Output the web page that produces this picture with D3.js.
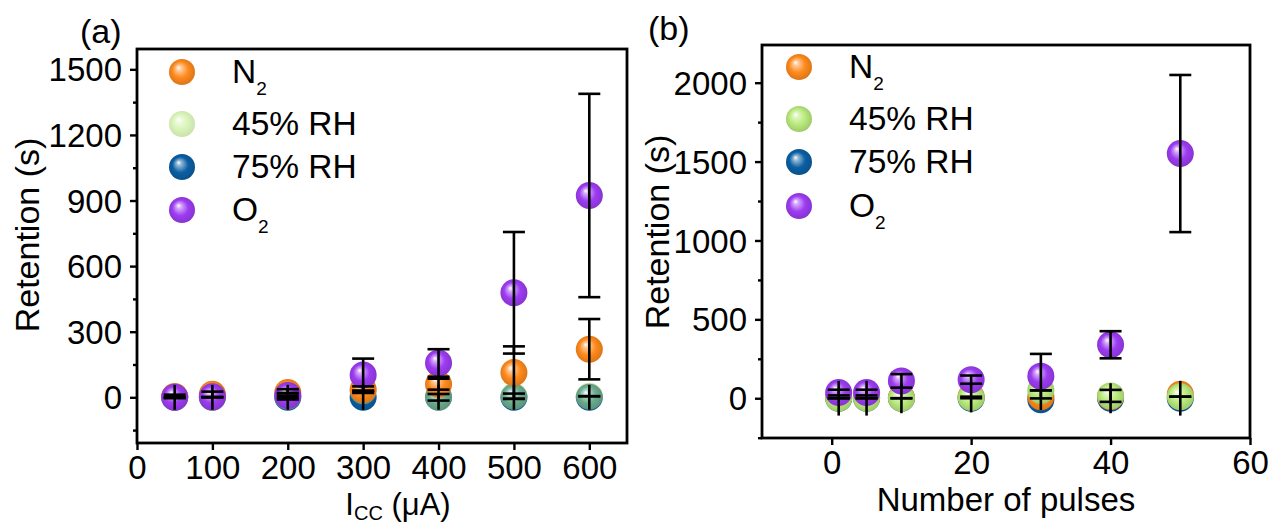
<!DOCTYPE html>
<html>
<head>
<meta charset="utf-8">
<script src="https://cdn.jsdelivr.net/npm/d3@7"></script>
<style>
  body { margin: 0; background: #fff; }
  text { font-family: "Liberation Sans", Arial, sans-serif; fill: #000; }
</style>
</head>
<body>
<svg id="fig" width="1273" height="523"></svg>
<script>
// ---------- data ----------
const seriesNames = ["N2", "45% RH", "75% RH", "O2"];

// Panel (a): retention vs compliance current (µA)
const iccCurrents = [50, 100, 200, 300, 400, 500, 600];
const aN2      = [4, 14, 22, 35, 60, 113, 220];
const aN2Err   = [8, 12, 15, 15, 25, 120, 138];
const aRH45    = [0, 0, 5, 30, 0, 5, 5];
const aRH45Err = [0, 0, 15, 0, 15, 12, 0];
const aRH75    = [0, 0, 0, 0, 0, 0, 0];
const aRH75Err = [57, 57, 57, 57, 57, 57, 57];
const aO2      = [0, 2, 8, 102, 157, 478, 923];
const aO2Err   = [0, 0, 10, 75, 63, 278, 465];

// Panel (b): retention vs number of pulses
const pulseCounts = [1, 5, 10, 20, 30, 40, 50];
const bN2      = [5, 5, 5, 10, 10, 10, 25];
const bN2Err   = [0, 0, 0, 0, 0, 0, 0];
const bRH45    = [0, 0, 0, 5, 50, 15, 10];
const bRH45Err = [0, 0, 0, 5, 0, 38, 0];
const bRH75    = [0, 0, 0, 0, -10, 0, 0];
const bRH75Err = [110, 110, 95, 90, 65, 95, 110];
const bO2      = [36, 36, 110, 118, 140, 339, 1551];
const bO2Err   = [18, 18, 43, 26, 141, 86, 498];

const aXTicks = [0, 100, 200, 300, 400, 500, 600];
const aYTicks = [0, 300, 600, 900, 1200, 1500];
const bXTicks = [0, 20, 40, 60];
const bYTicks = [0, 500, 1000, 1500, 2000];

// ---------- styling ----------
const colors = {
  "N2":     "#ff8a1c",
  "45% RH": "#b9ea7c",
  "75% RH": "#0b5fa3",
  "O2":     "#9d3cf2"
};
const FONT = "Liberation Sans, Arial, sans-serif";
const svg = d3.select("#fig");
const defs = svg.append("defs");

function gradId(name) { return "sph-" + name.replace(/[^a-zA-Z0-9]/g, ""); }
seriesNames.forEach(name => {
  const base = d3.color(colors[name]);
  const g = defs.append("radialGradient")
    .attr("id", gradId(name))
    .attr("cx", "50%").attr("cy", "50%").attr("r", "55%")
    .attr("fx", "36%").attr("fy", "32%");
  g.append("stop").attr("offset", "0%").attr("stop-color", "#ffffff");
  g.append("stop").attr("offset", "18%").attr("stop-color", d3.interpolateRgb(base, "#fff")(0.55));
  g.append("stop").attr("offset", "55%").attr("stop-color", base.formatHex());
  g.append("stop").attr("offset", "100%").attr("stop-color", base.darker(0.5).formatHex());
});

function sphere(sel, name, cx, cy, r, opacity) {
  sel.append("circle")
    .attr("cx", cx).attr("cy", cy).attr("r", r)
    .attr("fill", `url(#${gradId(name)})`)
    .attr("fill-opacity", opacity);
}

// ---------- one panel ----------
function panel(cfg) {
  const g = svg.append("g");
  const x = d3.scaleLinear().domain(cfg.xDomain).range([cfg.left, cfg.right]);
  const y = d3.scaleLinear().domain(cfg.yDomain).range([cfg.bottom, cfg.top]);

  // axes
  const yMinor = d3.range(cfg.yMinorStart, cfg.yDomain[1], cfg.yMinorStep)
    .filter(v => !cfg.yTicks.includes(v) && v >= cfg.yDomain[0]);
  g.append("g").attr("transform", `translate(${cfg.left},0)`)
    .call(d3.axisLeft(y).tickValues(yMinor).tickSize(4).tickFormat(""))
    .call(a => a.select(".domain").remove())
    .call(a => a.selectAll("line").attr("stroke-width", 2.4));
  const yAxis = g.append("g").attr("transform", `translate(${cfg.left},0)`)
    .call(d3.axisLeft(y).tickValues(cfg.yTicks).tickSize(7).tickPadding(8).tickFormat(d3.format("d")))
    .call(a => a.select(".domain").remove());
  yAxis.selectAll("line").attr("stroke-width", 2.4);
  yAxis.selectAll("text").attr("font-size", cfg.tickFont).attr("font-family", FONT)
    .attr("dy", "0.35em");

  const xAxis = g.append("g").attr("transform", `translate(0,${cfg.bottom})`)
    .call(d3.axisBottom(x).tickValues(cfg.xTicks).tickSize(7).tickPadding(6).tickFormat(d3.format("d")))
    .call(a => a.select(".domain").remove());
  xAxis.selectAll("line").attr("stroke-width", 2.4);
  xAxis.selectAll("text").attr("font-size", cfg.tickFont).attr("font-family", FONT);

  // frame
  g.append("rect")
    .attr("x", cfg.left).attr("y", cfg.top)
    .attr("width", cfg.right - cfg.left).attr("height", cfg.bottom - cfg.top)
    .attr("fill", "none").attr("stroke", "#000").attr("stroke-width", 2.8);

  // markers, bottom layer first
  const marks = g.append("g");
  cfg.order.forEach(name => {
    const s = cfg.series[name];
    cfg.xs.forEach((xv, i) => {
      sphere(marks, name, x(xv), y(s.v[i]), 13.5, s.opacity);
    });
  });

  // error bars on top
  const eb = g.append("g").attr("stroke", "#000").attr("stroke-width", 2.6).attr("fill", "none");
  cfg.order.forEach(name => {
    const s = cfg.series[name];
    cfg.xs.forEach((xv, i) => {
      const cx = x(xv), e = s.e[i];
      if (e <= 0 && !s.zeroCap) return;
      const y1 = y(s.v[i] + e), y0 = y(s.v[i] - e);
      eb.append("line").attr("x1", cx).attr("x2", cx).attr("y1", y1).attr("y2", y0);
      if (s.cap > 0) {
        eb.append("line").attr("x1", cx - s.cap / 2).attr("x2", cx + s.cap / 2).attr("y1", y1).attr("y2", y1);
        eb.append("line").attr("x1", cx - s.cap / 2).attr("x2", cx + s.cap / 2).attr("y1", y0).attr("y2", y0);
      }
    });
  });

  // legend
  const lg = g.append("g");
  seriesNames.forEach((name, i) => {
    const cy = cfg.legendY[i];
    sphere(lg, name, cfg.legendX, cy, 13, cfg.series[name].opacity);
    const t = lg.append("text")
      .attr("x", cfg.legendX + 50).attr("y", cy + 11)
      .attr("font-size", 33.5).attr("font-family", FONT);
    if (name === "N2" || name === "O2") {
      t.append("tspan").text(name[0]);
      t.append("tspan").attr("font-size", 19).attr("dy", 12).text("2");
    } else {
      t.text(name);
    }
  });

  // y title
  g.append("text")
    .attr("transform", `translate(${cfg.yTitleX},${cfg.yTitleY}) rotate(-90)`)
    .attr("text-anchor", "middle").attr("font-size", 34).attr("font-family", FONT)
    .text("Retention (s)");

  // panel label
  g.append("text").attr("x", cfg.labelX).attr("y", cfg.labelY)
    .attr("font-size", 34).attr("font-family", FONT).text(cfg.label);

  return { g, x, y };
}

const pa = panel({
  left: 137, right: 627, top: 49, bottom: 443,
  xDomain: [0, 650], yDomain: [-209, 1593],
  xTicks: aXTicks, yTicks: aYTicks, yMinorStart: -150, yMinorStep: 300,
  tickFont: 33,
  xs: iccCurrents,
  order: ["75% RH", "45% RH", "N2", "O2"],
  series: {
    "N2":     { v: aN2,   e: aN2Err,   opacity: 1,    cap: 22 },
    "45% RH": { v: aRH45, e: aRH45Err, opacity: 0.55, cap: 22, zeroCap: true },
    "75% RH": { v: aRH75, e: aRH75Err, opacity: 1,    cap: 0 },
    "O2":     { v: aO2,   e: aO2Err,   opacity: 1,    cap: 22 }
  },
  legendX: 182, legendY: [72, 124, 167, 210],
  yTitleX: 39, yTitleY: 235,
  label: "(a)", labelX: 80, labelY: 43
});

const pb = panel({
  left: 762, right: 1250, top: 45, bottom: 438,
  xDomain: [-10, 60], yDomain: [-252, 2239],
  xTicks: bXTicks, yTicks: bYTicks, yMinorStart: -250, yMinorStep: 500,
  tickFont: 33,
  xs: pulseCounts,
  order: ["75% RH", "N2", "45% RH", "O2"],
  series: {
    "N2":     { v: bN2,   e: bN2Err,   opacity: 1, cap: 22 },
    "45% RH": { v: bRH45, e: bRH45Err, opacity: 1, cap: 22, zeroCap: true },
    "75% RH": { v: bRH75, e: bRH75Err, opacity: 1, cap: 0 },
    "O2":     { v: bO2,   e: bO2Err,   opacity: 1, cap: 22 }
  },
  legendX: 799, legendY: [67, 119, 162, 206],
  yTitleX: 669, yTitleY: 232,
  label: "(b)", labelX: 648, labelY: 40
});

// x-axis titles
const ta = pa.g.append("text")
  .attr("x", 398).attr("y", 515).attr("text-anchor", "middle")
  .attr("font-size", 31).attr("font-family", FONT);
ta.append("tspan").text("I");
ta.append("tspan").attr("font-size", 20).attr("dy", 5).text("CC");
ta.append("tspan").attr("dy", -5).text(" (\u03bcA)");

pb.g.append("text")
  .attr("x", 1006).attr("y", 511).attr("text-anchor", "middle")
  .attr("font-size", 33).attr("font-family", FONT)
  .text("Number of pulses");
</script>
</body>
</html>
